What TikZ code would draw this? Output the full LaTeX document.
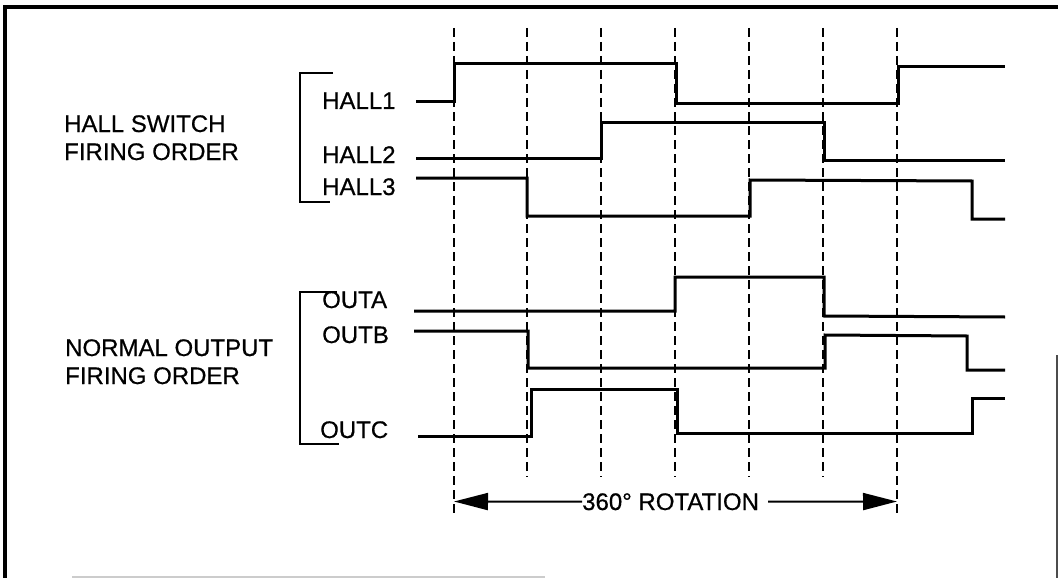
\documentclass[tikz,border=0pt]{standalone}
\usepackage{fontspec}
\setmainfont{Liberation Sans}[FakeBold=0.6]
\usetikzlibrary{arrows.meta}
\begin{document}
\begin{tikzpicture}[x=1pt,y=-1pt,
  sig/.style={line width=3pt,line join=miter,line cap=butt},
  brk/.style={line width=2.6pt,line join=miter},
  grid/.style={line width=2.6pt,dash pattern=on 9pt off 5pt},
  lbl/.style={anchor=base west,inner sep=0pt,font=\fontsize{24}{28}\selectfont},
  rotarrow/.style={line width=2pt,-{Triangle[length=34pt,width=17pt]}}]
\useasboundingbox (0,0) rectangle (1058,578);
% frame
\draw[line width=3.5pt] (5,578) -- (5,6.8) -- (1058,6.8);
\draw[line width=1.4pt,black!70] (1057,355) -- (1057,578);
\draw[line width=1.2pt,black!20] (72,577) -- (545,577);
% dashed timing lines
\foreach \x in {527,601,675,749,823}
  \draw[grid] (\x,28) -- (\x,477);
\foreach \x in {454,897}
  \draw[grid] (\x,28) -- (\x,513);
% brackets
\draw[brk] (333,73) -- (300,73) -- (300,202) -- (330,202);
\draw[brk] (337,292) -- (300,292) -- (300,444) -- (339,444);
% labels
\node[lbl] (hs1) at (64,132) {HALL SWITCH};
\node[lbl] (hs2) at (64,160) {FIRING ORDER};
\node[lbl] (no1) at (65,356) {NORMAL OUTPUT};
\node[lbl] (no2) at (65,384) {FIRING ORDER};
\node[lbl] (h1) at (322,109) {HALL1};
\node[lbl] (h2) at (322,163) {HALL2};
\node[lbl] (h3) at (322,195) {HALL3};
\node[lbl] (oa) at (322,308) {OUTA};
\node[lbl] (ob) at (322,343) {OUTB};
\node[lbl] (oc) at (320,438) {OUTC};
% signals
\draw[sig] (416,101) -- (454,101) -- (454,64) -- (676,64) -- (676,103) -- (898,103) -- (898,67) -- (1005,67);
\draw[sig] (416,158) -- (601,158) -- (601,122) -- (824,122) -- (824,160) -- (1005,160);
\draw[sig] (416,178) -- (527,178) -- (527,216) -- (750,216) -- (750,180) -- (972,181) -- (972,219) -- (1005,219);
\draw[sig] (414,311) -- (675,311) -- (675,277) -- (824,277) -- (824,316) -- (1005,317);
\draw[sig] (414,331) -- (528,331) -- (528,368) -- (825,368) -- (825,335) -- (967,336) -- (967,370) -- (1005,370);
\draw[sig] (418,436) -- (531,436) -- (531,389) -- (677,389) -- (677,433) -- (972,433) -- (972,398) -- (1005,398);
% rotation arrow
\node[lbl] (rot) at (582,510) {360° ROTATION};
\coordinate (aL) at (454,501.5);
\coordinate (aR) at (897,501.5);
\draw[rotarrow] (rot.west) -- (aL);
\draw[rotarrow] ([xshift=9pt]rot.east) -- (aR);
\end{tikzpicture}
\end{document}
